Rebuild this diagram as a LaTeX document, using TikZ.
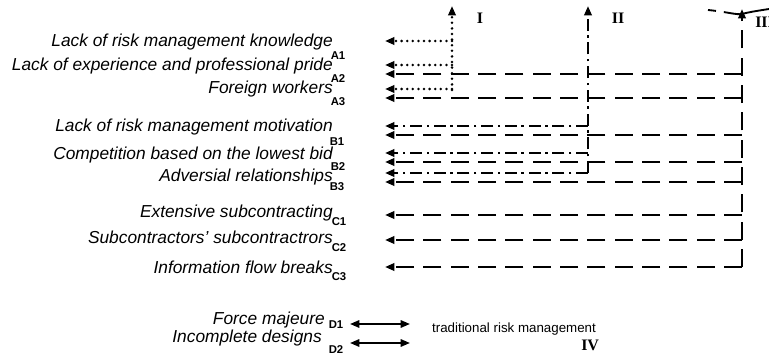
\documentclass[tikz,border=0pt]{standalone}
\usepackage{fontspec}
\setmainfont{Liberation Sans}
\newfontfamily\numfont{Liberation Serif}
\usetikzlibrary{arrows.meta,positioning}

\tikzset{
  factor/.style={font=\itshape\fontsize{13}{14}\selectfont,anchor=east,inner sep=0pt},
  tag/.style={font=\bfseries\fontsize{8.5}{9}\selectfont,inner sep=0pt},
  numeral/.style={font=\numfont\bfseries\fontsize{12}{13}\selectfont,inner sep=0pt},
  dotline/.style={line width=2.1pt,line cap=round,dash pattern=on 0pt off 4.2pt},
  dashdotline/.style={line width=1.8pt,dash pattern=on 9pt off 3.5pt on 1.8pt off 3.5pt},
  dashline/.style={line width=1.8pt,dash pattern=on 13.5pt off 7pt}
}

\begin{document}
\begin{tikzpicture}[x=0.75pt,y=-0.75pt,>={Triangle[length=7pt,width=5.5pt]},auto]

                \useasboundingbox (0,0) rectangle (769,357);

                \foreach \n/\y/\t in {a1/42/Lack of risk management knowledge,
                                      a2/66/Lack of experience and professional pride,
                                      a3/89/Foreign workers,
                                      b1/127/Lack of risk management motivation,
                                      b2/155/Competition based on the lowest bid,
                                      b3/177/Adversial relationships,
                                      c1/213/Extensive subcontracting,
                                      c2/237/Subcontractors’ subcontractrors,
                                      c3/267/Information flow breaks}
                    \node[factor] (\n) at (333,\y) {\t};

                \foreach \n/\x/\y/\t in {a1/338/56/A1, a2/338/79/A2, a3/338/102/A3,
                                         b1/337/142/B1, b2/338/167/B2, b3/337/187/B3,
                                         c1/339/222/C1, c2/339/248/C2, c3/339/277/C3}
                    \node[tag] (\n tag) at (\x,\y) {\t};

                \coordinate (topI) at (452,6);
                \coordinate (endI) at (452,90);
                \coordinate (topII) at (588,6);
                \coordinate (endII) at (588,173);
                \coordinate (topIII) at (742,9);
                \coordinate (endIII) at (742,267);

                \node[numeral] (one) at (480,18) {I};
                \node[numeral] (two) at (618,18) {II};
                \node[numeral,anchor=west] (three) at (755,22) {III};

                \draw[dotline,->] (endI) -- (topI);
                \draw[dashdotline,->] (endII) -- (topII);
                \draw[dashline,->] (endIII) -- (topIII);

                \foreach \y in {41,65,89}
                    \draw[dotline,->] (452,\y) -- (385,\y);
                \foreach \y in {126,153,173}
                    \draw[dashdotline,->] (588,\y) -- (385,\y);
                \foreach \y in {74,98,135,162,182,215,240,267}
                    \draw[dashline,->] (742,\y) -- (385,\y);

                \draw[line width=1.4pt,dash pattern=on 6pt off 6pt on 60pt] (708,10) .. controls (728,12) and (736,15) .. (742,14) .. controls (750,12) .. (769,9);

                \node[factor] (d1) at (325,320) {Force majeure};
                \node[factor] (d2) at (322,338) {Incomplete designs};
                \node[tag] (d1tag) at (336,325) {D1};
                \node[tag] (d2tag) at (336,350) {D2};
                \coordinate (d1a) at (350,324);
                \coordinate (d1b) at (410,324);
                \coordinate (d2a) at (350,343);
                \coordinate (d2b) at (410,343);
                \draw[line width=1.5pt,<->] (d1a) -- (d1b);
                \draw[line width=1.5pt,<->] (d2a) -- (d2b);

                \node[font=\fontsize{10}{11}\selectfont,inner sep=0pt] (trad) at (514,329) {traditional risk management};
                \node[numeral] (four) [below=3pt of trad.south east,xshift=-4.5pt] {IV};

            \end{tikzpicture}
\end{document}
